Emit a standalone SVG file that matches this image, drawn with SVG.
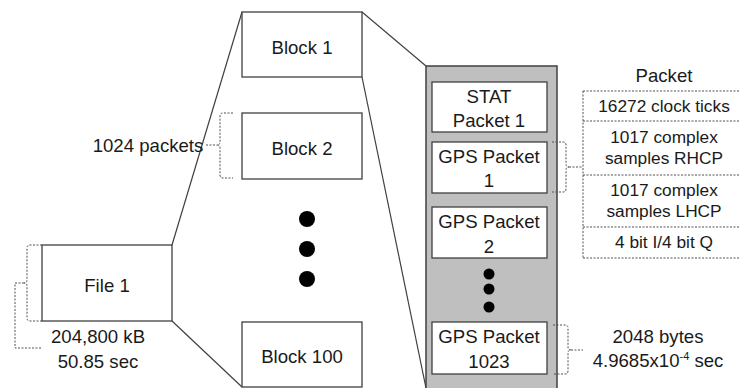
<svg xmlns="http://www.w3.org/2000/svg" width="739" height="388" viewBox="0 0 739 388">
<style>
text{font-family:"Liberation Sans",Arial,sans-serif;font-size:18.6px;fill:#1a1a1a;text-anchor:middle}
.box{fill:#fff;stroke:#404040;stroke-width:1.3}
.ln{stroke:#404040;stroke-width:1.2;fill:none}
.dash{stroke:#505050;stroke-width:1;fill:none;stroke-dasharray:2,1.5}
.dot{fill:#000}
.tb{font-size:17.3px}
</style>
<rect width="739" height="388" fill="#fff"/>
<g id="connectors">
<path class="ln" d="M172,245 L242,12"/>
<path class="ln" d="M172,321 L242,387"/>
<path class="ln" d="M362,12 L426,66"/>
<path class="ln" d="M362,77 L426,388"/>
</g>
<g id="gray-block">
<rect x="426" y="66" width="131" height="330" fill="#bfbfbf" stroke="#404040" stroke-width="1.5"/>
</g>
<g id="file1">
<rect class="box" x="42" y="245" width="130" height="76"/>
<text x="107" y="292">File 1</text>
<path class="dash" d="M42,245 H30 Q27,245 27,248 V280 Q27,283 24,283 Q27,283 27,286 V318 Q27,321 30,321 H42"/>
<path class="dash" d="M24,283 H15 V348 H42"/>
<text x="98" y="343">204,800 kB</text>
<text x="98" y="368">50.85 sec</text>
</g>
<g id="block1">
<rect class="box" x="242" y="12" width="120" height="65"/>
<text x="302" y="54">Block 1</text>
</g>
<g id="block2">
<rect class="box" x="242" y="113" width="120" height="66"/>
<text x="302" y="155">Block 2</text>
<path class="dash" d="M233,113 H223 Q220,113 220,116 V142 Q220,145 217,145 Q220,145 220,148 V175 Q220,178 223,178 H233"/>
<path class="dash" d="M206,145 H217"/>
<text x="148" y="152">1024 packets</text>
</g>
<g id="block-dots">
<circle class="dot" cx="307" cy="219" r="8"/>
<circle class="dot" cx="307" cy="249" r="8"/>
<circle class="dot" cx="307" cy="279" r="8"/>
</g>
<g id="block100">
<rect class="box" x="242" y="322" width="120" height="65"/>
<text x="302" y="363">Block 100</text>
</g>
<g id="stat1">
<rect class="box" x="432" y="82" width="115" height="50"/>
<text x="489" y="103">STAT</text>
<text x="489" y="127">Packet 1</text>
</g>
<g id="gps1">
<rect class="box" x="432" y="142" width="115" height="51"/>
<text x="489" y="163">GPS Packet</text>
<text x="489" y="187">1</text>
<path class="dash" d="M552,142 H563 Q566,142 566,145 V164 Q566,167 569,167 Q566,167 566,170 V189 Q566,192 563,192 H552"/>
<path class="dash" d="M569,167 H583"/>
</g>
<g id="gps2">
<rect class="box" x="432" y="207" width="115" height="51"/>
<text x="489" y="228">GPS Packet</text>
<text x="489" y="253">2</text>
</g>
<g id="packet-dots">
<circle class="dot" cx="489" cy="274" r="5.5"/>
<circle class="dot" cx="489" cy="289" r="5.5"/>
<circle class="dot" cx="489" cy="307" r="5.5"/>
</g>
<g id="gps1023">
<rect class="box" x="432" y="322" width="115" height="52"/>
<text x="489" y="343">GPS Packet</text>
<text x="489" y="368">1023</text>
<path class="dash" d="M553,325 H565 Q568,325 568,328 V347 Q568,350 571,350 Q568,350 568,353 V371 Q568,374 565,374 H553"/>
<path class="dash" d="M571,350 H583"/>
<text x="658" y="343">2048 bytes</text>
<text x="658" y="367">4.9685x10<tspan font-size="11" dy="-7">-4</tspan><tspan dy="7"> sec</tspan></text>
</g>
<g id="packet-table">
<text x="664" y="82">Packet</text>
<path class="dash" d="M583,91 H739 M583,121 H739 M583,175 H739 M583,227 H739 M583,258 H739 M583,91 V258"/>
<text class="tb" x="664" y="112">16272 clock ticks</text>
<text class="tb" x="664" y="143">1017 complex</text>
<text class="tb" x="664" y="164">samples RHCP</text>
<text class="tb" x="664" y="196">1017 complex</text>
<text class="tb" x="664" y="217">samples LHCP</text>
<text class="tb" x="664" y="248">4 bit I/4 bit Q</text>
</g>
</svg>
